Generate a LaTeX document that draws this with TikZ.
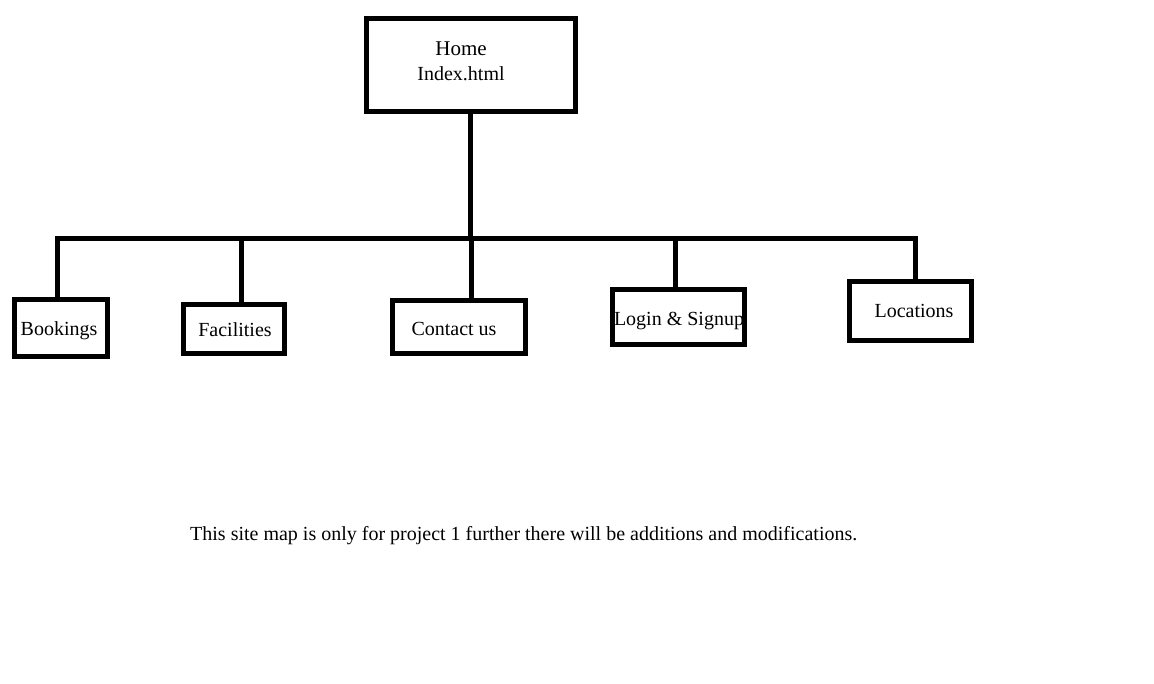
\documentclass[tikz,border=0pt]{standalone}
\usepackage{fontspec}
\setmainfont{Liberation Serif}
\begin{document}
\begin{tikzpicture}[x=1pt,y=-1pt,
  box/.style={draw=black,line width=5pt,rectangle,inner sep=0pt,fill=none},
  lbl/.style={inner sep=0pt,font=\fontsize{20}{22}\selectfont,text=black},
  conn/.style={draw=black,line width=5pt}]
\useasboundingbox[fill=white] (0,0) rectangle (1154,684);
% boxes (line centres)
\node[box,minimum width=209pt,minimum height=93pt] (home) at (471,65) {};
\node[box,minimum width=93pt,minimum height=57pt] (bk) at (61,328) {};
\node[box,minimum width=101pt,minimum height=49pt] (fac) at (234,329) {};
\node[box,minimum width=133pt,minimum height=53pt] (con) at (459,327) {};
\node[box,minimum width=132pt,minimum height=55pt] (log) at (678.5,317) {};
\node[box,minimum width=122pt,minimum height=59pt] (loc) at (910.5,311) {};
% texts
\node[lbl,align=center] (homet) at (461,61) {\fontsize{21}{22}\selectfont Home\\[3pt]Index.html};
\node[lbl] (bkt) at (59,331) {Bookings};
\node[lbl] (fact) at (235,330) {Facilities};
\node[lbl] (cont) at (454,329) {Contact us};
\node[lbl] (logt) at (679,321) {Login \& Signup};
\node[lbl] (loct) at (914,311) {Locations};
% bus
\coordinate (hb) at (470,239);
\coordinate (bL) at (55,239);
\coordinate (bR) at (915,239);
\coordinate (d1) at (57,239);
\coordinate (d2) at (241,239);
\coordinate (d3) at (471,239);
\coordinate (d4) at (675,239);
\draw[conn] (home.south -| hb) -- (hb);
\draw[conn] (bL) -- (bR) -- (bR |- loc.north);
\draw[conn] (d1) -- (d1 |- bk.north);
\draw[conn] (d2) -- (d2 |- fac.north);
\draw[conn] (d3) -- (d3 |- con.north);
\draw[conn] (d4) -- (d4 |- log.north);
% caption
\node[lbl,anchor=west] (cap) at (190,536) {This site map is only for project 1 further there will be additions and modifications.};
\end{tikzpicture}
\end{document}
